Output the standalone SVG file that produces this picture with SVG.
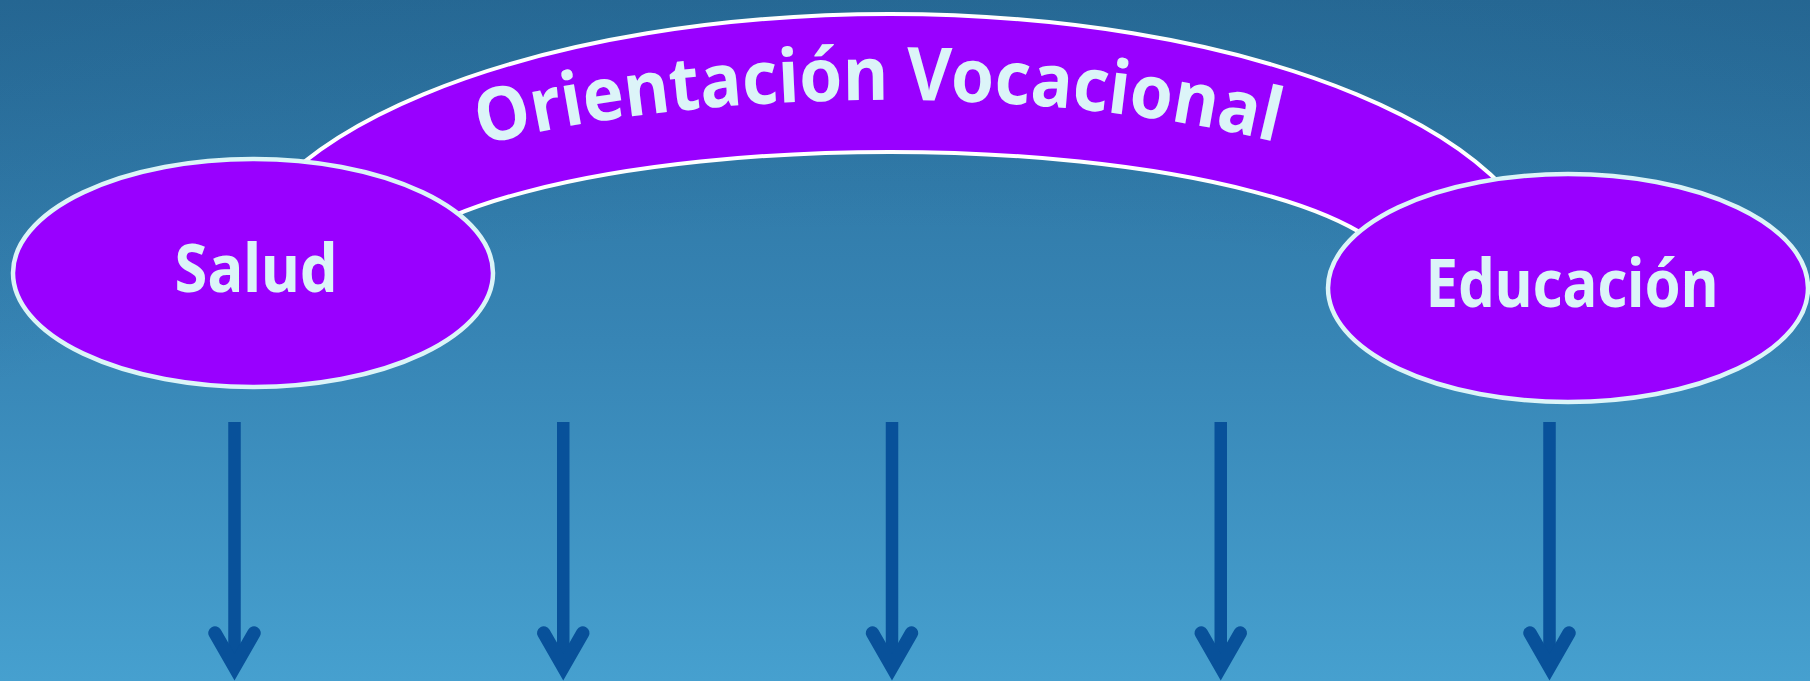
<svg xmlns="http://www.w3.org/2000/svg" width="1810" height="681" viewBox="0 0 1810 681">
  <defs>
    <linearGradient id="bg" x1="0" y1="0" x2="0" y2="1">
      <stop offset="0" stop-color="#2a709d"/>
      <stop offset="0.5" stop-color="#3785b5"/>
      <stop offset="1" stop-color="#46a0cf"/>
    </linearGradient>
    <radialGradient id="shade" cx="0.5" cy="1" r="1.1">
      <stop offset="0.6" stop-color="#103e66" stop-opacity="0"/>
      <stop offset="1" stop-color="#103e66" stop-opacity="0.2"/>
    </radialGradient>
    <marker id="ah" markerUnits="userSpaceOnUse" markerWidth="80" markerHeight="80" viewBox="-50 -40 80 80" refX="0" refY="0" orient="auto" overflow="visible">
      <path d="M -34 -19.5 L 0 0 L -34 19.5" fill="none" stroke="#08519a" stroke-width="13.5" stroke-linecap="round" stroke-linejoin="miter"/>
    </marker>
    <path id="arcText" d="M 265 288 A 620 188 0 0 1 1505 288"/>
  </defs>
  <style>
    .node { fill: #9900ff; stroke: #dcf4f8; stroke-width: 4.5; }
    .band { fill: #9900ff; stroke: #ffffff; stroke-width: 4; }
    .label { fill: #dcf4f8; font-family: "Comic Sans MS", "Noto Sans", "DejaVu Sans", sans-serif; font-weight: bold; }
    .conn { stroke: #08519a; stroke-width: 12.5; fill: none; marker-end: url(#ah); }
  </style>

  <rect width="1810" height="681" fill="url(#bg)"/>
  <rect width="1810" height="681" fill="url(#shade)"/>

  <g id="orientacion-vocacional">
    <path class="band" d="M 230 288 A 660 274 0 0 1 1550 288 L 1405 288 A 515 136 0 0 0 375 288 Z"/>
    <text class="label" font-size="74"><textPath href="#arcText" startOffset="49.5%" text-anchor="middle" textLength="800" lengthAdjust="spacingAndGlyphs">Orientación Vocacional</textPath></text>
  </g>

  <g id="salud">
    <ellipse class="node" cx="253" cy="273" rx="240" ry="114"/>
    <text class="label" x="256" y="292" font-size="66" text-anchor="middle" textLength="163" lengthAdjust="spacingAndGlyphs">Salud</text>
  </g>

  <g id="educacion">
    <ellipse class="node" cx="1568" cy="288" rx="240" ry="114"/>
    <text class="label" x="1572" y="307" font-size="66" text-anchor="middle" textLength="293" lengthAdjust="spacingAndGlyphs">Educación</text>
  </g>

  <g id="connectors">
    <line class="conn" x1="234.5" y1="422" x2="234.5" y2="667"/>
    <line class="conn" x1="563.25" y1="422" x2="563.25" y2="667"/>
    <line class="conn" x1="892" y1="422" x2="892" y2="667"/>
    <line class="conn" x1="1220.75" y1="422" x2="1220.75" y2="667"/>
    <line class="conn" x1="1549.5" y1="422" x2="1549.5" y2="667"/>
  </g>
</svg>
